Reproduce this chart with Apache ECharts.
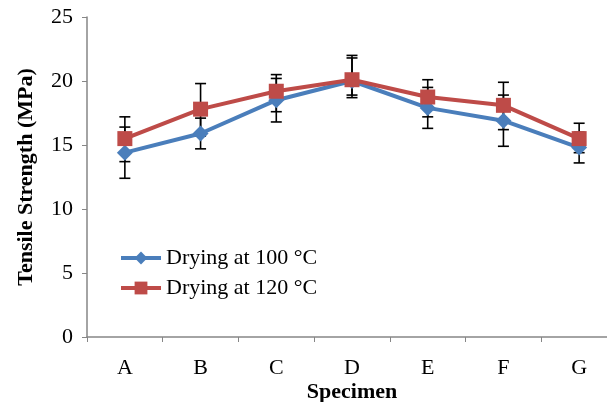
<!DOCTYPE html>
<html>
<head>
<meta charset="utf-8">
<script src="https://cdn.jsdelivr.net/npm/echarts@6/dist/echarts.min.js"></script>
<style>
  html, body { margin: 0; padding: 0; background: #fff; }
  #main { width: 607px; height: 402px; }
</style>
</head>
<body>
<div id="main"></div>
<script>
// specimen names
var categories = ['A', 'B', 'C', 'D', 'E', 'F', 'G'];
// mean tensile strength (MPa)
var dry100 = [14.4, 15.9, 18.5, 20.0, 17.9, 16.9, 14.8];
var dry120 = [15.5, 17.8, 19.2, 20.1, 18.75, 18.1, 15.5];
// error bar ends (MPa)
var dry100Low = [12.4, 14.7, 16.8, 18.7, 16.3, 14.9, 13.6];
var dry100High = [16.4, 17.1, 20.2, 21.8, 19.5, 18.9, 16.0];
var dry120Low = [13.7, 15.7, 17.6, 18.9, 17.2, 16.2, 14.4];
var dry120High = [17.2, 19.8, 20.5, 22.0, 20.1, 19.9, 16.7];
var yTicks = [0, 5, 10, 15, 20, 25];

var font = 'Liberation Serif';
var axisGray = '#868686';

function errData(low, high) {
  return categories.map(function (c, i) { return [i, low[i], high[i]]; });
}

function renderErr(params, api) {
  var x = api.value(0);
  var lo = api.coord([x, api.value(1)]);
  var hi = api.coord([x, api.value(2)]);
  var w = 5.5;
  var st = { stroke: '#000', lineWidth: 1.6 };
  return {
    type: 'group',
    children: [
      { type: 'line', shape: { x1: lo[0], y1: lo[1], x2: hi[0], y2: hi[1] }, style: st },
      { type: 'line', shape: { x1: lo[0] - w, y1: lo[1], x2: lo[0] + w, y2: lo[1] }, style: st },
      { type: 'line', shape: { x1: hi[0] - w, y1: hi[1], x2: hi[0] + w, y2: hi[1] }, style: st }
    ]
  };
}

var chart = echarts.init(document.getElementById('main'));
chart.setOption({
  animation: false,
  backgroundColor: '#fff',
  textStyle: { fontFamily: font },
  // plot runs a little past the right edge, as in the source
  grid: { left: 87, top: 17, height: 320, width: 530, outerBoundsMode: 'none', containLabel: false },
  legend: {
    orient: 'vertical',
    left: 114,
    top: 242,
    itemWidth: 40,
    itemHeight: 16,
    itemGap: 8,
    lineStyle: { width: 4 },
    data: ['Drying at 100 °C', 'Drying at 120 °C'],
    textStyle: { fontFamily: font, fontSize: 22, color: '#000' }
  },
  xAxis: {
    type: 'category',
    data: categories,
    name: 'Specimen',
    nameLocation: 'middle',
    nameGap: 44,
    nameMoveOverlap: false,
    nameTextStyle: { fontFamily: font, fontSize: 22, fontWeight: 'bold', color: '#000' },
    axisLine: { lineStyle: { color: axisGray, width: 1.5 } },
    axisTick: { show: true, length: 5, lineStyle: { color: axisGray } },
    axisLabel: { fontFamily: font, fontSize: 22, color: '#000', margin: 20 }
  },
  yAxis: {
    type: 'value',
    min: yTicks[0],
    max: yTicks[yTicks.length - 1],
    interval: 5,
    name: 'Tensile Strength (MPa)',
    nameLocation: 'middle',
    nameGap: 50,
    nameMoveOverlap: false,
    nameTextStyle: { fontFamily: font, fontSize: 22, fontWeight: 'bold', color: '#000' },
    axisLine: { show: true, lineStyle: { color: axisGray, width: 1.5 } },
    axisTick: { show: true, length: 5, lineStyle: { color: axisGray } },
    splitLine: { show: false },
    axisLabel: { fontFamily: font, fontSize: 22, color: '#000', margin: 14 }
  },
  series: [
    {
      type: 'custom',
      renderItem: renderErr,
      data: errData(dry100Low, dry100High),
      encode: { x: 0, y: [1, 2] },
      z: 1,
      silent: true
    },
    {
      type: 'custom',
      renderItem: renderErr,
      data: errData(dry120Low, dry120High),
      encode: { x: 0, y: [1, 2] },
      z: 1,
      silent: true
    },
    {
      name: 'Drying at 100 °C',
      type: 'line',
      data: dry100,
      symbol: 'diamond',
      symbolSize: 16,
      color: '#4a7ebb',
      lineStyle: { width: 4, color: '#4a7ebb' },
      itemStyle: { color: '#4a7ebb' },
      z: 3
    },
    {
      name: 'Drying at 120 °C',
      type: 'line',
      data: dry120,
      symbol: 'rect',
      symbolSize: 15,
      color: '#be4b48',
      lineStyle: { width: 4, color: '#be4b48' },
      itemStyle: { color: '#be4b48' },
      z: 4
    }
  ]
});
</script>
</body>
</html>
